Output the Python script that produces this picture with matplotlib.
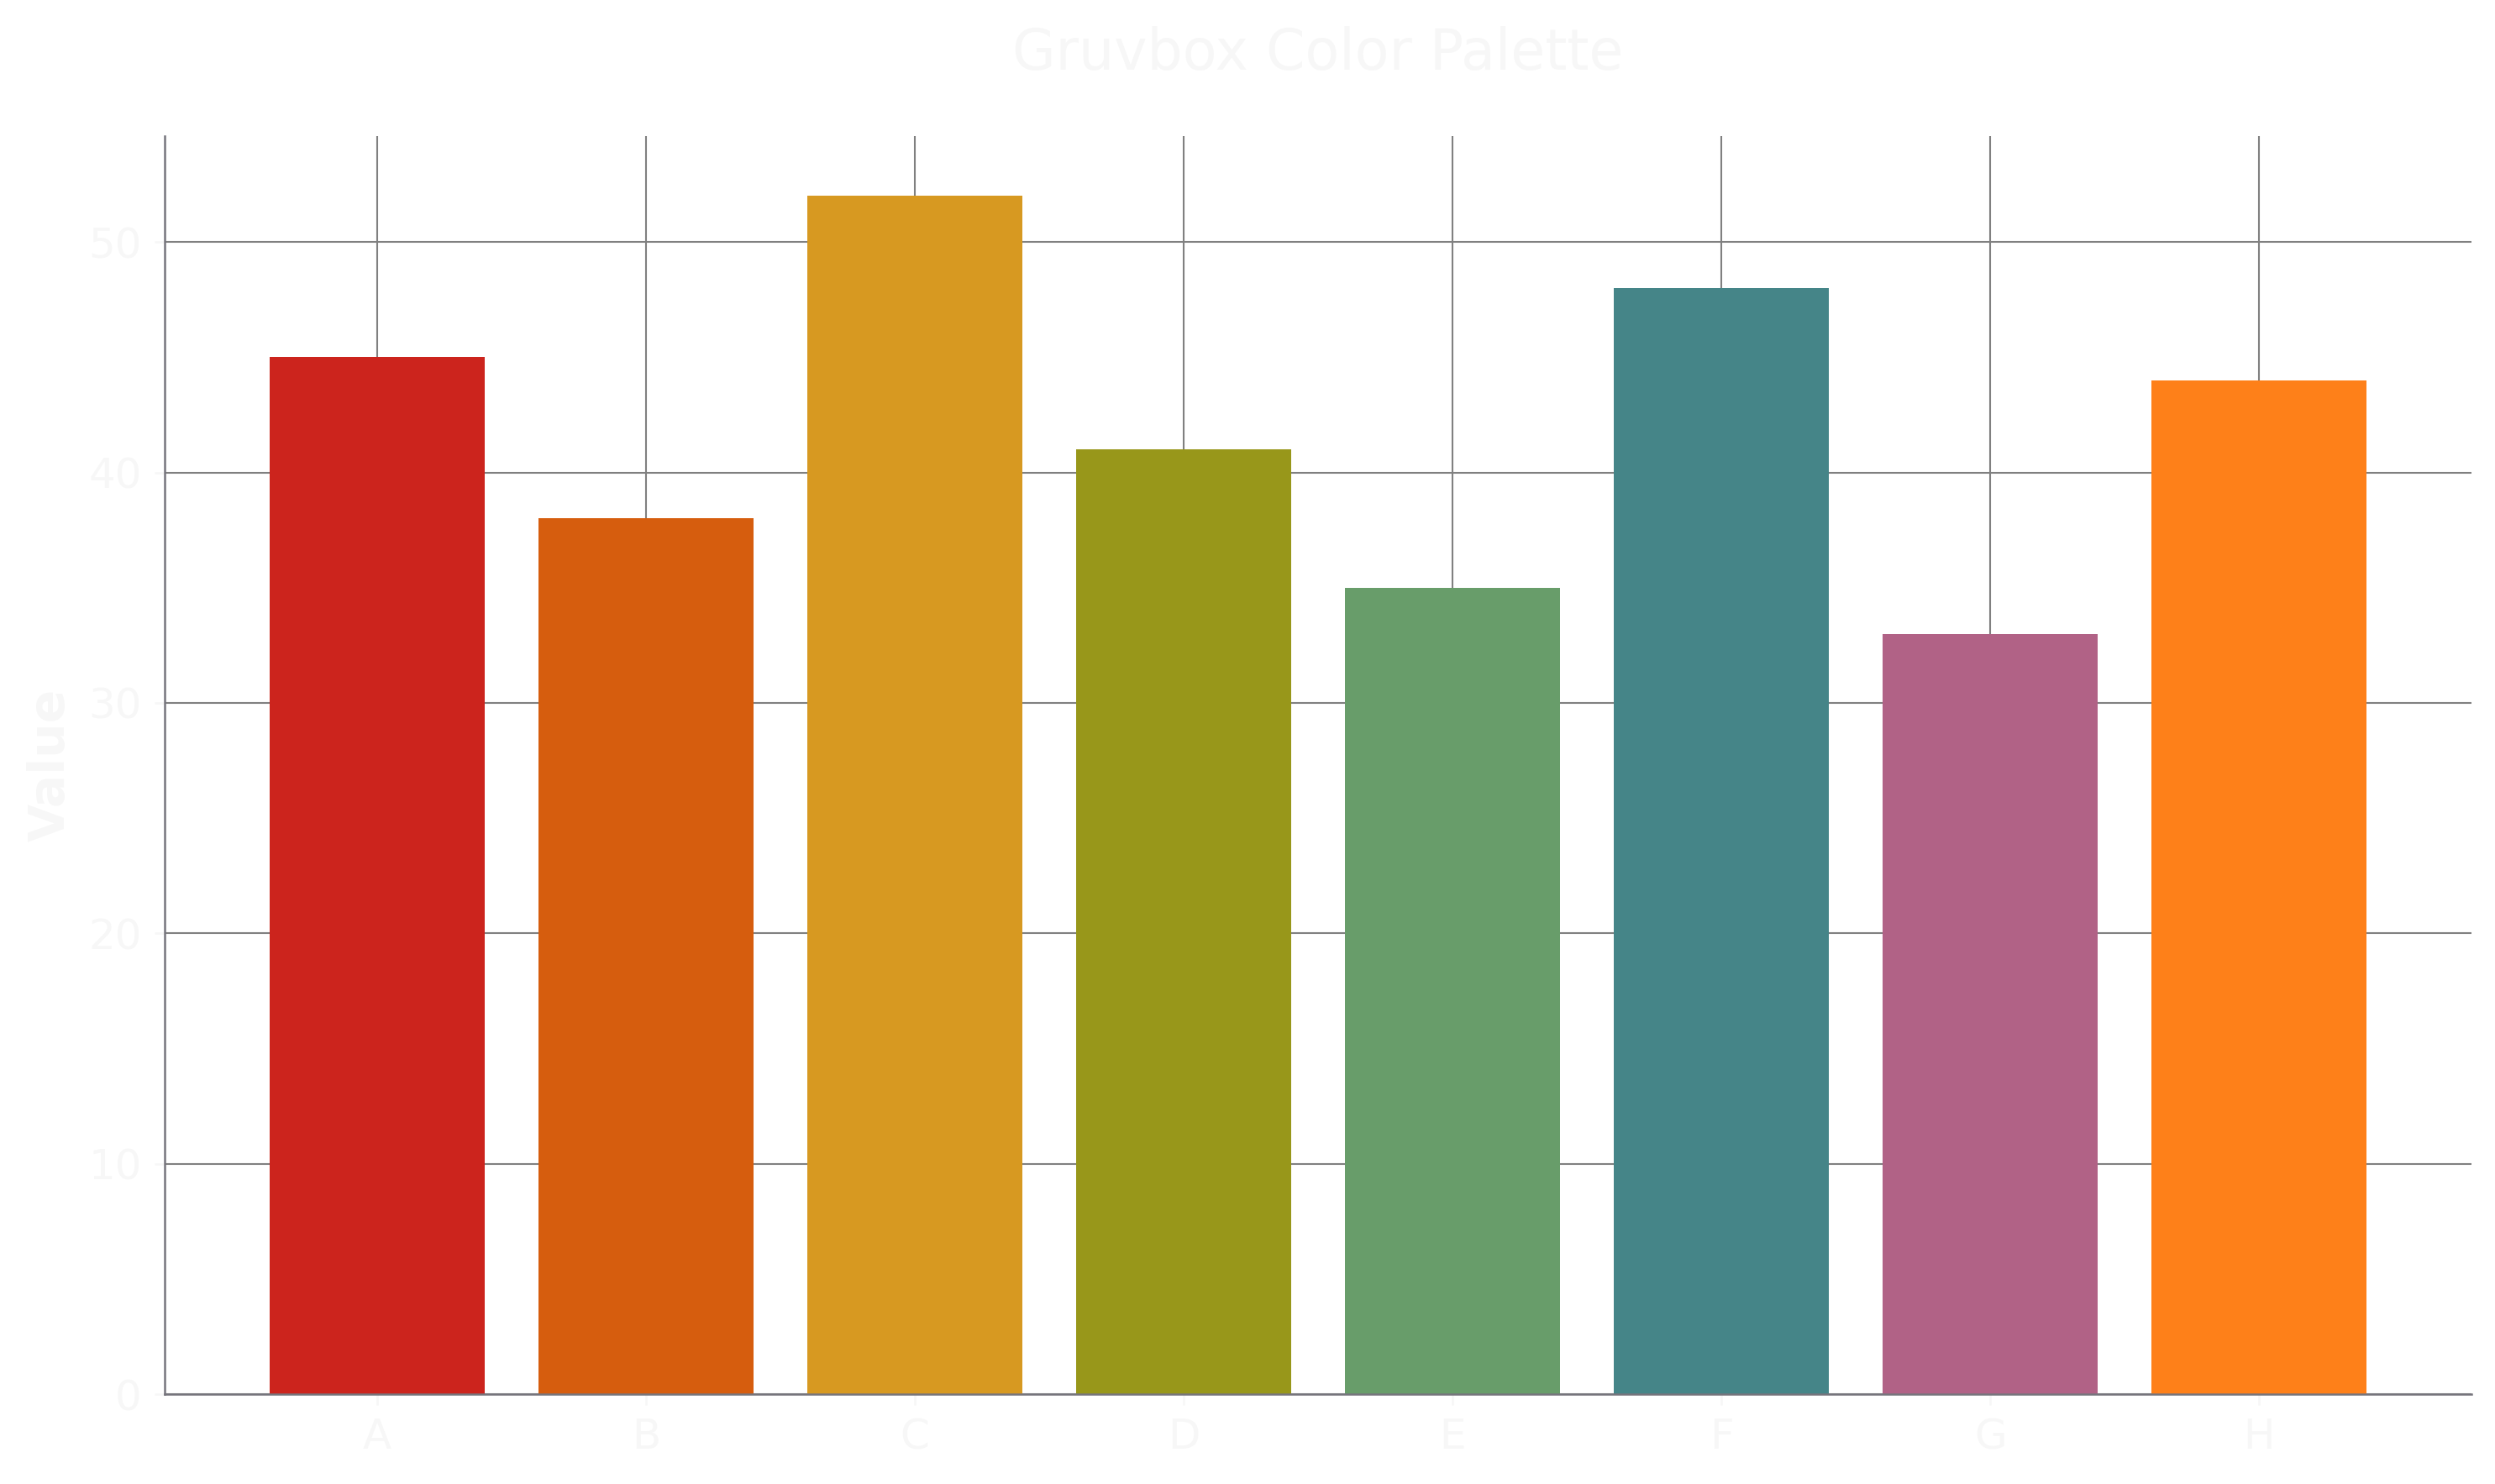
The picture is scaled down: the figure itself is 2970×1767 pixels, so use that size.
import matplotlib
matplotlib.use("Agg")
import matplotlib.pyplot as plt

# data
categories = ['A', 'B', 'C', 'D', 'E', 'F', 'G', 'H']
values = [45, 38, 52, 41, 35, 48, 33, 44]
bar_colors = ['#cc241d', '#d65d0e', '#d79921', '#98971a',
              '#689d6a', '#458588', '#b16286', '#fe8019']

text_col = '#f7f7f7'
spine_col = '#76757d'
grid_col = '#808080'

plt.rcParams['font.family'] = ['DejaVu Sans']

fig = plt.figure(figsize=(9.9, 5.89), dpi=300)
fig.patch.set_facecolor('white')
ax = fig.add_axes([0.0660, 0.0605, 0.9246, 0.8478])
ax.set_facecolor('white')

ax.bar(categories, values, width=0.8, color=bar_colors, zorder=2)

ax.set_axisbelow(True)
ax.grid(True, color=grid_col, linewidth=0.5)

for s in ['top', 'right']:
    ax.spines[s].set_visible(False)
for s in ['left', 'bottom']:
    ax.spines[s].set_color(spine_col)
    ax.spines[s].set_linewidth(0.6)

ax.tick_params(colors=text_col, labelsize=12, length=3, width=0.6)
ax.set_ylabel('Value', fontsize=14, fontweight='bold', color=text_col)
ax.set_title('Gruvbox Color Palette', fontsize=16, color=text_col, pad=19)

fig.savefig('out.png', dpi=300, facecolor='white')
